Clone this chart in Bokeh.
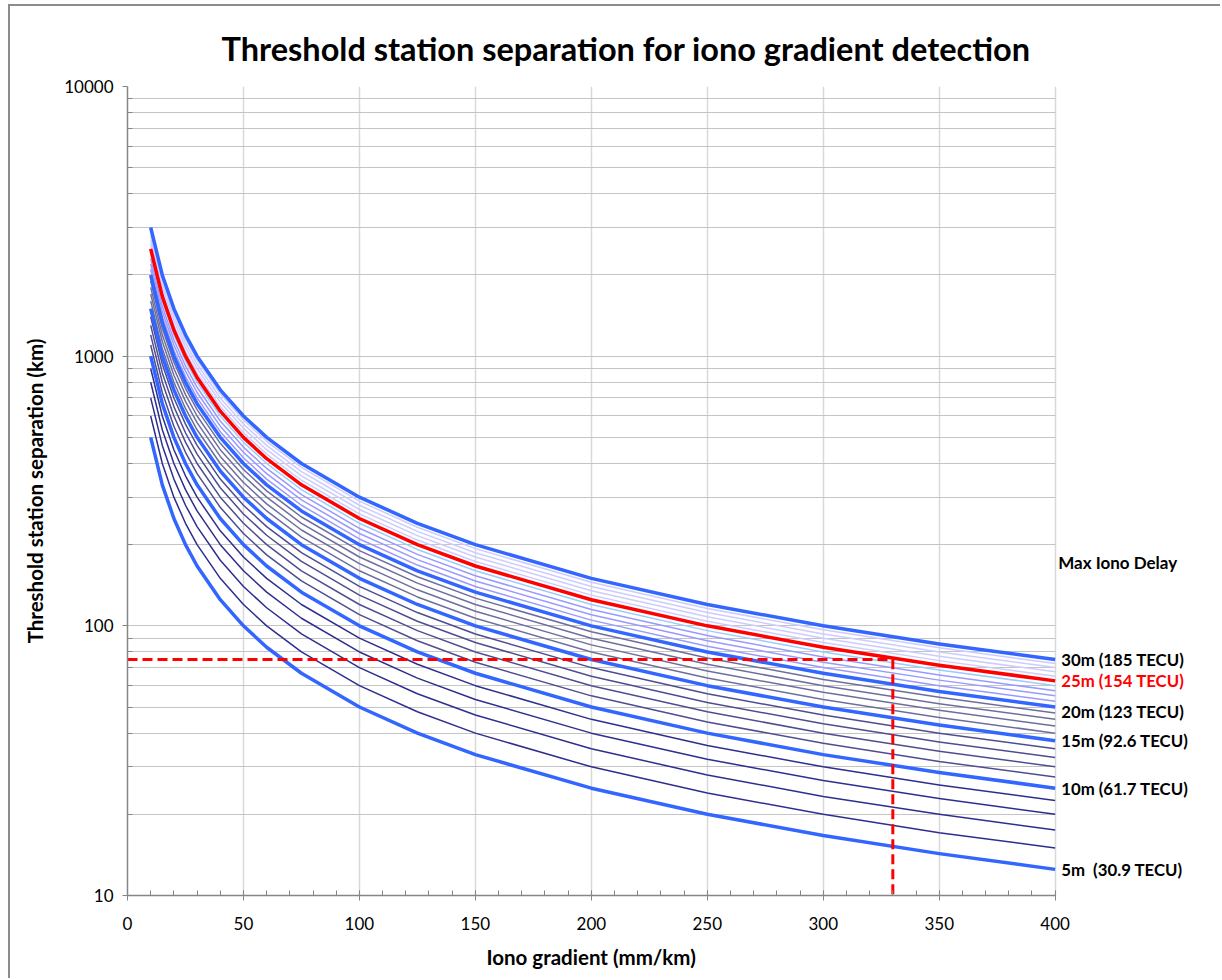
from bokeh.plotting import figure
from bokeh.models import Range1d, FixedTicker, NumeralTickFormatter, Label, Title
from bokeh.embed import file_html
from bokeh.resources import INLINE

# ---- data ----
gradient_mm_per_km = [10, 15, 20, 25, 30, 40, 50, 60, 75, 100, 125, 150, 200, 250, 300, 350, 400]
delays_m = [5, 6, 7, 8, 9, 10, 11, 12, 13, 14, 15, 16, 17, 18, 19, 20, 21, 22, 23, 24, 25, 26, 27, 28, 29, 30]

sep_05 = [500, 333.3, 250, 200, 166.7, 125, 100, 83.3, 66.7, 50, 40, 33.3, 25, 20, 16.7, 14.3, 12.5]
sep_06 = [600, 400, 300, 240, 200, 150, 120, 100, 80, 60, 48, 40, 30, 24, 20, 17.1, 15]
sep_07 = [700, 466.7, 350, 280, 233.3, 175, 140, 116.7, 93.3, 70, 56, 46.7, 35, 28, 23.3, 20, 17.5]
sep_08 = [800, 533.3, 400, 320, 266.7, 200, 160, 133.3, 106.7, 80, 64, 53.3, 40, 32, 26.7, 22.9, 20]
sep_09 = [900, 600, 450, 360, 300, 225, 180, 150, 120, 90, 72, 60, 45, 36, 30, 25.7, 22.5]
sep_10 = [1000, 666.7, 500, 400, 333.3, 250, 200, 166.7, 133.3, 100, 80, 66.7, 50, 40, 33.3, 28.6, 25]
sep_11 = [1100, 733.3, 550, 440, 366.7, 275, 220, 183.3, 146.7, 110, 88, 73.3, 55, 44, 36.7, 31.4, 27.5]
sep_12 = [1200, 800, 600, 480, 400, 300, 240, 200, 160, 120, 96, 80, 60, 48, 40, 34.3, 30]
sep_13 = [1300, 866.7, 650, 520, 433.3, 325, 260, 216.7, 173.3, 130, 104, 86.7, 65, 52, 43.3, 37.1, 32.5]
sep_14 = [1400, 933.3, 700, 560, 466.7, 350, 280, 233.3, 186.7, 140, 112, 93.3, 70, 56, 46.7, 40, 35]
sep_15 = [1500, 1000, 750, 600, 500, 375, 300, 250, 200, 150, 120, 100, 75, 60, 50, 42.9, 37.5]
sep_16 = [1600, 1066.7, 800, 640, 533.3, 400, 320, 266.7, 213.3, 160, 128, 106.7, 80, 64, 53.3, 45.7, 40]
sep_17 = [1700, 1133.3, 850, 680, 566.7, 425, 340, 283.3, 226.7, 170, 136, 113.3, 85, 68, 56.7, 48.6, 42.5]
sep_18 = [1800, 1200, 900, 720, 600, 450, 360, 300, 240, 180, 144, 120, 90, 72, 60, 51.4, 45]
sep_19 = [1900, 1266.7, 950, 760, 633.3, 475, 380, 316.7, 253.3, 190, 152, 126.7, 95, 76, 63.3, 54.3, 47.5]
sep_20 = [2000, 1333.3, 1000, 800, 666.7, 500, 400, 333.3, 266.7, 200, 160, 133.3, 100, 80, 66.7, 57.1, 50]
sep_21 = [2100, 1400, 1050, 840, 700, 525, 420, 350, 280, 210, 168, 140, 105, 84, 70, 60, 52.5]
sep_22 = [2200, 1466.7, 1100, 880, 733.3, 550, 440, 366.7, 293.3, 220, 176, 146.7, 110, 88, 73.3, 62.9, 55]
sep_23 = [2300, 1533.3, 1150, 920, 766.7, 575, 460, 383.3, 306.7, 230, 184, 153.3, 115, 92, 76.7, 65.7, 57.5]
sep_24 = [2400, 1600, 1200, 960, 800, 600, 480, 400, 320, 240, 192, 160, 120, 96, 80, 68.6, 60]
sep_25 = [2500, 1666.7, 1250, 1000, 833.3, 625, 500, 416.7, 333.3, 250, 200, 166.7, 125, 100, 83.3, 71.4, 62.5]
sep_26 = [2600, 1733.3, 1300, 1040, 866.7, 650, 520, 433.3, 346.7, 260, 208, 173.3, 130, 104, 86.7, 74.3, 65]
sep_27 = [2700, 1800, 1350, 1080, 900, 675, 540, 450, 360, 270, 216, 180, 135, 108, 90, 77.1, 67.5]
sep_28 = [2800, 1866.7, 1400, 1120, 933.3, 700, 560, 466.7, 373.3, 280, 224, 186.7, 140, 112, 93.3, 80, 70]
sep_29 = [2900, 1933.3, 1450, 1160, 966.7, 725, 580, 483.3, 386.7, 290, 232, 193.3, 145, 116, 96.7, 82.9, 72.5]
sep_30 = [3000, 2000, 1500, 1200, 1000, 750, 600, 500, 400, 300, 240, 200, 150, 120, 100, 85.7, 75]

separations_km = [sep_05, sep_06, sep_07, sep_08, sep_09, sep_10, sep_11, sep_12, sep_13,
                  sep_14, sep_15, sep_16, sep_17, sep_18, sep_19, sep_20, sep_21, sep_22,
                  sep_23, sep_24, sep_25, sep_26, sep_27, sep_28, sep_29, sep_30]

label_delays = [30, 25, 20, 15, 10, 5]
label_texts = ["30m (185 TECU)", "25m (154 TECU)", "20m (123 TECU)",
               "15m (92.6 TECU)", "10m (61.7 TECU)", "5m\u00a0\u00a0(30.9 TECU)"]

threshold_x = [0, 330, 330]
threshold_y = [75, 75, 10]

x_ticks = [0, 50, 100, 150, 200, 250, 300, 350, 400]
x_minor = [v for v in range(0, 401, 10)]
y_ticks = [10, 100, 1000, 10000]
y_minor = [m * d for d in (10, 100, 1000) for m in range(2, 10)]

# ---- styling ----
FONT = "Lato"
BLUE = "#3366FF"
RED = "#FF0000"


def style_for(d):
    if d == 25:
        return RED, 3.5
    if d % 5 == 0:
        return BLUE, 3.5
    if d < 10:
        return "#2E2E8E", 1.5
    if d < 15:
        return "#4D4D91", 1.5
    if d < 20:
        return "#6E6E9E", 1.5
    if d < 24:
        return "#9999FF", 1.5
    if d == 24:
        return "#99CCFF", 1.5
    return "#CCCCFF", 1.5


p = figure(width=1212, height=974, output_backend="svg", toolbar_location=None,
           x_range=Range1d(0, 470), y_range=Range1d(10, 10000), y_axis_type="log",
           min_border_left=117, min_border_right=5, min_border_top=80, min_border_bottom=85,
           background_fill_color="white", border_fill_color="white")
p.outline_line_color = None
p.styles = {"margin-left": "8px", "margin-top": "4px",
            "border-left": "2px solid #8C8C8C", "border-top": "2px solid #8C8C8C"}

p.title.text = "Threshold station separation for iono gradient detection"
p.title.align = "left"
p.title.offset = 94
p.title.text_font = FONT
p.title.text_font_size = "32.5px"
p.title.text_font_style = "bold"
p.title.text_color = "black"
p.title.standoff = 37

xt = FixedTicker(ticks=x_ticks, minor_ticks=x_minor)
yt = FixedTicker(ticks=y_ticks, minor_ticks=y_minor)
p.xaxis.ticker = xt
p.yaxis.ticker = yt
p.xgrid.ticker = xt
p.ygrid.ticker = yt
p.yaxis.formatter = NumeralTickFormatter(format="0")
p.xaxis.bounds = (0, 400)

for ax in (p.xaxis[0], p.yaxis[0]):
    ax.axis_line_color = "#868686"
    ax.axis_line_width = 1.5
    ax.major_tick_line_color = "#868686"
    ax.minor_tick_line_color = "#868686"
    ax.major_label_text_font = FONT
    ax.major_label_text_font_size = "17px"
    ax.major_label_text_color = "black"
    ax.axis_label_text_font = FONT
    ax.axis_label_text_font_size = "20.5px"
    ax.axis_label_text_font_style = "bold"
    ax.axis_label_text_color = "black"

p.xaxis.major_tick_in = 5
p.xaxis.major_tick_out = 5
p.xaxis.minor_tick_in = 5
p.xaxis.minor_tick_out = 0
p.xaxis.major_label_standoff = 16

# x-axis title, centred under the 0..400 part of the axis
p.add_layout(Title(text="Iono gradient (mm/km)", align="left", offset=359,
                   text_font=FONT, text_font_size="20.5px", text_font_style="bold",
                   text_color="black", standoff=21), "below")

p.yaxis.axis_label = "Threshold station separation (km)"
p.yaxis.major_tick_in = 0
p.yaxis.major_tick_out = 5
p.yaxis.minor_tick_in = 5
p.yaxis.minor_tick_out = 0
p.yaxis.major_label_standoff = 9
p.yaxis.axis_label_standoff = 14

p.xgrid.grid_line_color = "#D9D9D9"
p.xgrid.grid_line_width = 1.5
p.xgrid.bounds = (0, 400)
p.ygrid.grid_line_color = "#C4C4C4"
p.ygrid.grid_line_width = 1.2
p.ygrid.minor_grid_line_color = "#C4C4C4"
p.ygrid.minor_grid_line_width = 1.2
p.ygrid.cross_bounds = (0, 400)

# thin curves first, thick on top
order = [i for i, d in enumerate(delays_m) if d % 5 != 0] + \
        [i for i, d in enumerate(delays_m) if d % 5 == 0 and d != 25] + \
        [delays_m.index(25)]
for i in order:
    c, w = style_for(delays_m[i])
    p.line(gradient_mm_per_km, separations_km[i], line_color=c, line_width=w, line_join="round")

p.line(threshold_x, threshold_y, line_color=RED, line_width=3, line_dash="10 5")

for d, t in zip(label_delays, label_texts):
    yv = separations_km[delays_m.index(d)][-1]
    p.add_layout(Label(x=gradient_mm_per_km[-1], y=yv, text=t, x_offset=6,
                       y_offset=-4 if d == 20 else 0,
                       text_baseline="middle", text_font=FONT, text_font_size="16.8px",
                       text_font_style="bold", text_color=RED if d == 25 else "black"))

p.add_layout(Label(x=gradient_mm_per_km[-1], y=172, text="Max Iono Delay", x_offset=3,
                   text_baseline="middle", text_font=FONT, text_font_size="17px",
                   text_font_style="bold", text_color="black"))

open("out.html", "w").write(file_html(p, INLINE))
